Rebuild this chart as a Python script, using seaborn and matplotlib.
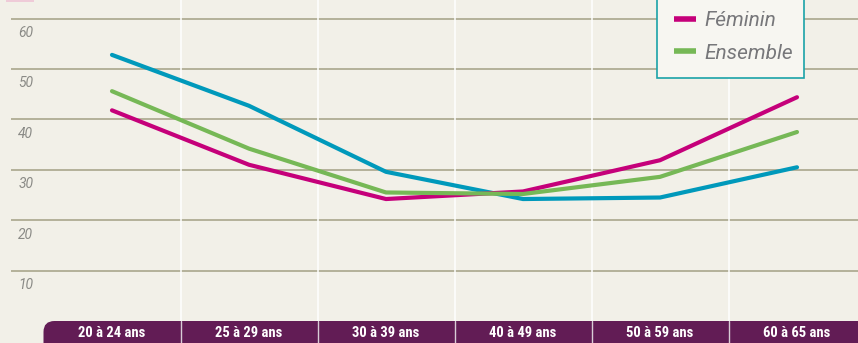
import matplotlib
matplotlib.use('Agg')
import matplotlib.pyplot as plt
from matplotlib.patches import Rectangle, FancyBboxPatch
import seaborn as sns
import pandas as pd

# data
age_groups = ['20 à 24 ans', '25 à 29 ans', '30 à 39 ans', '40 à 49 ans', '50 à 59 ans', '60 à 65 ans']
masculin = [52.8, 42.7, 29.6, 24.2, 24.5, 30.5]
feminin = [41.8, 31.0, 24.2, 25.7, 31.9, 44.4]
ensemble = [45.6, 34.2, 25.5, 25.2, 28.6, 37.5]
series_names = ['Masculin', 'Féminin', 'Ensemble']
legend_names = ['Féminin', 'Ensemble']  # the Masculin entry sits above the visible area
y_ticks = [10, 20, 30, 40, 50, 60]

bg = '#F2F0E8'
band = '#621C55'
grid_col = '#A9A68C'
palette = {'Masculin': '#0099BB', 'Féminin': '#C5007A', 'Ensemble': '#76B856'}

rows = []
for name, vals in zip(series_names, [masculin, feminin, ensemble]):
    for i, v in enumerate(vals):
        rows.append({'pos': i, 'value': v, 'serie': name})
df = pd.DataFrame(rows)

sns.set_style('white')
plt.rcParams['font.family'] = ['Roboto', 'DejaVu Sans']

fig = plt.figure(figsize=(8.58, 3.43), dpi=100, facecolor=bg)
ax = fig.add_axes([11 / 858, 0, 847 / 858, 1])
ax.set_facecolor(bg)

xmin, xmax = -101 / 137, -101 / 137 + 847 / 137
ymin, ymax = -22 / 5.04, 321 / 5.04
ax.set_xlim(xmin, xmax)
ax.set_ylim(ymin, ymax)

# horizontal grid + labels
for t in y_ticks:
    ax.axhline(t, color=grid_col, lw=1.2, zorder=1)
    ax.text(-0.685, t - 2.85, str(t), fontsize=10, style='italic', color='#8A8A86',
            va='center', ha='left', zorder=2)

# column separators
for i in range(len(age_groups)):
    ax.axvline(i + 0.5, color='white', lw=1.1, zorder=1.5)

sns.lineplot(data=df, x='pos', y='value', hue='serie', hue_order=series_names,
             palette=palette, lw=3.0, ax=ax, legend=False, zorder=3)

# bottom band
ax.add_patch(FancyBboxPatch((-0.5, -10), 1.6, 10, boxstyle='round,pad=0,rounding_size=0.08',
                            mutation_aspect=27, facecolor=band, edgecolor='none', zorder=4))
ax.add_patch(Rectangle((1.0, -10), 5, 10, facecolor=band, edgecolor='none', zorder=4))
for i in range(len(age_groups) - 1):
    ax.plot([i + 0.5, i + 0.5], [ymin, 0], color='#D8CCD6', lw=1, zorder=5)
for i, lab in enumerate(age_groups):
    ax.text(i, -2.45, lab, ha='center', va='center', color='white', fontsize=10.5,
            fontweight='bold', family=['Roboto Condensed', 'Liberation Sans Narrow', 'Roboto'],
            zorder=6)

ax.set_xlabel('')
ax.set_ylabel('')
ax.set_xticks([])
ax.set_yticks([])
for s in ax.spines.values():
    s.set_visible(False)

# legend box (its top runs off the picture)
fig.patches.append(Rectangle((657 / 858, 1 - 78 / 343), 147 / 858, 100 / 343,
                             transform=fig.transFigure, facecolor='#F7F6F1',
                             edgecolor='#1AA3A8', lw=1.2, zorder=9))
handles = [plt.Line2D([], [], color=palette[n], lw=4, solid_capstyle='butt') for n in legend_names]
leg = fig.legend(handles, legend_names, loc='upper left',
                 bbox_to_anchor=(674 / 858, 1 - 11 / 343),
                 frameon=False, fontsize=15, handlelength=1.05,
                 handletextpad=0.4, labelspacing=0.65, borderpad=0, borderaxespad=0)
for t in leg.get_texts():
    t.set_style('italic')
    t.set_color('#77777A')
leg.set_zorder(10)

# small pink mark at top-left
fig.patches.append(Rectangle((6 / 858, 1 - 2 / 343), 28 / 858, 2 / 343, transform=fig.transFigure,
                             facecolor='#EFCBD8', edgecolor='none'))

fig.savefig('out.png', dpi=100, facecolor=bg)
